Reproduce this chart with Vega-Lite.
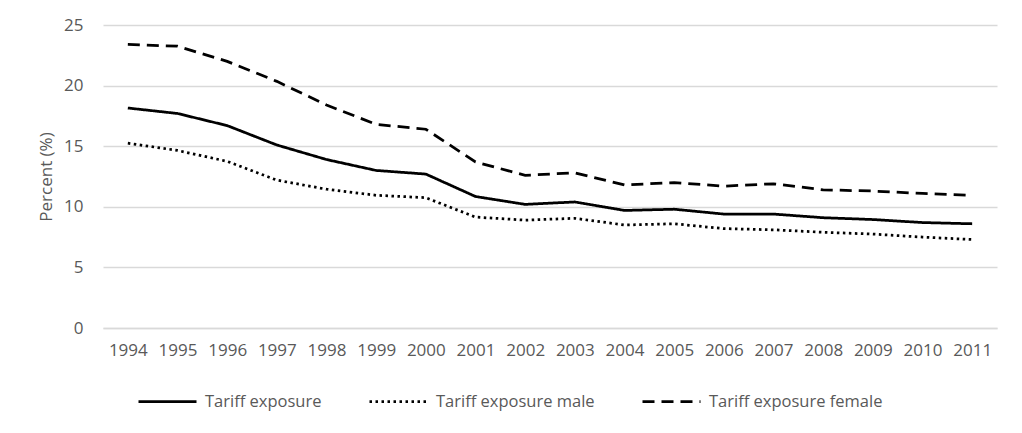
{
  "$schema": "https://vega.github.io/schema/vega-lite/v6.json",
  "width": 894,
  "height": 303,
  "autosize": "none",
  "padding": {"left": 103, "top": 25, "right": 25, "bottom": 105},
  "background": "white",
  "config": {
    "view": {"stroke": null},
    "font": "Open Sans",
    "axis": {"labelColor": "#595959", "titleColor": "#595959", "gridColor": "#d9d9d9", "gridWidth": 1.5, "domainColor": "#d9d9d9", "domainWidth": 1.5}
  },
  "data": {
    "values": [
      {"year": 1994, "series": "Tariff exposure", "value": 18.15},
      {"year": 1995, "series": "Tariff exposure", "value": 17.7},
      {"year": 1996, "series": "Tariff exposure", "value": 16.7},
      {"year": 1997, "series": "Tariff exposure", "value": 15.1},
      {"year": 1998, "series": "Tariff exposure", "value": 13.9},
      {"year": 1999, "series": "Tariff exposure", "value": 13.0},
      {"year": 2000, "series": "Tariff exposure", "value": 12.7},
      {"year": 2001, "series": "Tariff exposure", "value": 10.85},
      {"year": 2002, "series": "Tariff exposure", "value": 10.2},
      {"year": 2003, "series": "Tariff exposure", "value": 10.4},
      {"year": 2004, "series": "Tariff exposure", "value": 9.7},
      {"year": 2005, "series": "Tariff exposure", "value": 9.8},
      {"year": 2006, "series": "Tariff exposure", "value": 9.4},
      {"year": 2007, "series": "Tariff exposure", "value": 9.4},
      {"year": 2008, "series": "Tariff exposure", "value": 9.1},
      {"year": 2009, "series": "Tariff exposure", "value": 8.95},
      {"year": 2010, "series": "Tariff exposure", "value": 8.7},
      {"year": 2011, "series": "Tariff exposure", "value": 8.6},
      {"year": 1994, "series": "Tariff exposure male", "value": 15.25},
      {"year": 1995, "series": "Tariff exposure male", "value": 14.65},
      {"year": 1996, "series": "Tariff exposure male", "value": 13.75},
      {"year": 1997, "series": "Tariff exposure male", "value": 12.2},
      {"year": 1998, "series": "Tariff exposure male", "value": 11.45},
      {"year": 1999, "series": "Tariff exposure male", "value": 10.95},
      {"year": 2000, "series": "Tariff exposure male", "value": 10.75},
      {"year": 2001, "series": "Tariff exposure male", "value": 9.15},
      {"year": 2002, "series": "Tariff exposure male", "value": 8.9},
      {"year": 2003, "series": "Tariff exposure male", "value": 9.05},
      {"year": 2004, "series": "Tariff exposure male", "value": 8.5},
      {"year": 2005, "series": "Tariff exposure male", "value": 8.6},
      {"year": 2006, "series": "Tariff exposure male", "value": 8.2},
      {"year": 2007, "series": "Tariff exposure male", "value": 8.1},
      {"year": 2008, "series": "Tariff exposure male", "value": 7.9},
      {"year": 2009, "series": "Tariff exposure male", "value": 7.75},
      {"year": 2010, "series": "Tariff exposure male", "value": 7.5},
      {"year": 2011, "series": "Tariff exposure male", "value": 7.3},
      {"year": 1994, "series": "Tariff exposure female", "value": 23.4},
      {"year": 1995, "series": "Tariff exposure female", "value": 23.25},
      {"year": 1996, "series": "Tariff exposure female", "value": 22.0},
      {"year": 1997, "series": "Tariff exposure female", "value": 20.35},
      {"year": 1998, "series": "Tariff exposure female", "value": 18.4},
      {"year": 1999, "series": "Tariff exposure female", "value": 16.8},
      {"year": 2000, "series": "Tariff exposure female", "value": 16.4},
      {"year": 2001, "series": "Tariff exposure female", "value": 13.7},
      {"year": 2002, "series": "Tariff exposure female", "value": 12.6},
      {"year": 2003, "series": "Tariff exposure female", "value": 12.8},
      {"year": 2004, "series": "Tariff exposure female", "value": 11.8},
      {"year": 2005, "series": "Tariff exposure female", "value": 12.0},
      {"year": 2006, "series": "Tariff exposure female", "value": 11.7},
      {"year": 2007, "series": "Tariff exposure female", "value": 11.9},
      {"year": 2008, "series": "Tariff exposure female", "value": 11.4},
      {"year": 2009, "series": "Tariff exposure female", "value": 11.3},
      {"year": 2010, "series": "Tariff exposure female", "value": 11.1},
      {"year": 2011, "series": "Tariff exposure female", "value": 10.95}
    ]
  },
  "mark": {"type": "line", "color": "black", "strokeWidth": 2.75, "strokeCap": "butt"},
  "encoding": {
    "x": {
      "field": "year",
      "type": "ordinal",
      "scale": {"type": "point", "padding": 0.5},
      "axis": {"title": null, "labelAngle": 0, "labelFontSize": 17, "labelPadding": 14, "ticks": false, "grid": false, "domain": true}
    },
    "y": {
      "field": "value",
      "type": "quantitative",
      "scale": {"domain": [0, 25]},
      "axis": {"title": "Percent (%)", "titleFontSize": 17, "titleFontWeight": "normal", "titlePadding": 8, "labelFontSize": 17, "labelPadding": 20, "ticks": false, "domain": false, "values": [0, 5, 10, 15, 20, 25], "grid": true}
    },
    "strokeDash": {
      "field": "series",
      "type": "nominal",
      "scale": {
        "domain": ["Tariff exposure", "Tariff exposure male", "Tariff exposure female"],
        "range": [[1, 0], [2.5, 3.5], [12, 7]]
      },
      "legend": {
        "title": null,
        "orient": "none",
        "direction": "horizontal",
        "legendX": 34,
        "legendY": 346,
        "symbolType": "stroke",
        "symbolSize": 3364,
        "symbolStrokeWidth": 2.75,
        "symbolStrokeColor": "black",
        "labelFontSize": 16.5,
        "labelColor": "#595959",
        "labelOffset": 7,
        "columnPadding": 42,
        "labelLimit": 300
      }
    }
  }
}
